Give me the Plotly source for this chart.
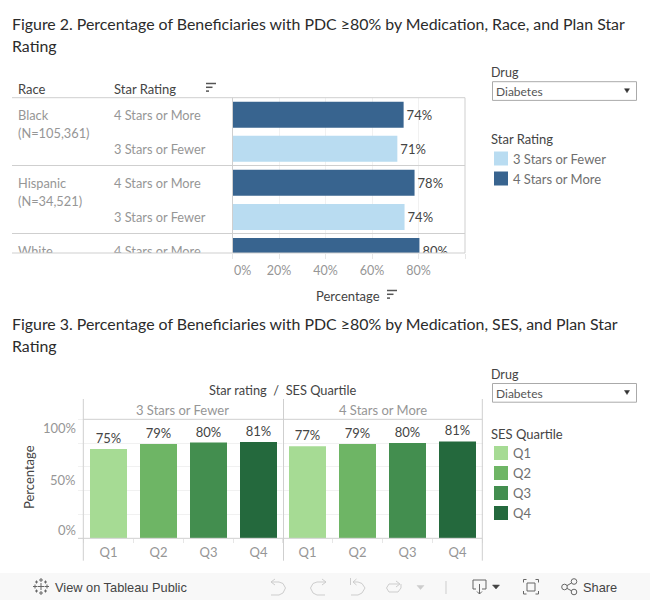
import plotly.graph_objects as go

W, H = 650, 600
FONT = "Lato"

# ---- data ----
races = ["Black", "Hispanic", "White"]
race_notes = ["(N=105,361)", "(N=34,521)"]
star_rows = ["4 Stars or More", "3 Stars or Fewer", "4 Stars or More", "3 Stars or Fewer", "4 Stars or More"]
star_names = ["3 Stars or Fewer", "4 Stars or More"]
pdc_rows = [73.6, 70.9, 78.3, 74.0, 80.4]
x_ticks_fig2 = [0, 20, 40, 60, 80, 100]
x_ticklabels_fig2 = ["", "20%", "40%", "60%", "80%", ""]

quartiles = ["Q1", "Q2", "Q3", "Q4"]
pdc_low = [75.1, 79.3, 80.4, 80.9]
pdc_high = [77.4, 79.3, 80.1, 81.4]
y_ticklabels_fig3 = ["100%", "50%", "0%"]
drug = "Diabetes"

# ---- styles ----
C_DARK = "#38648f"
C_LIGHT = "#b9dcf1"
GREENS = ["#a6db94", "#6eb565", "#438e4f", "#24693d"]
LINE = "#cfcfcf"
GRID = "#f1f1f1"
GREY = "#969696"
LEGEND_GREY = "#6f6f6f"
DARK = "#444444"
ICON_OFF = "#cdcdcd"
ICON_ON = "#666666"


def px(x):
    return x / W


def py(y):
    return 1 - y / H


def dom_x(a, b):
    return [px(a), px(b)]


def dom_y(top, bottom):
    return [py(bottom), py(top)]


fig = go.Figure()
annotations, shapes = [], []


def text(x, y, s, size=12, color=DARK, anchor="left", angle=0, family=FONT):
    annotations.append(dict(x=px(x), y=py(y), xref="paper", yref="paper", text=s, showarrow=False,
                            xanchor=anchor, yanchor="middle", textangle=angle, borderpad=0, borderwidth=0,
                            font=dict(family=family, size=size, color=color)))


def line(x0, y0, x1, y1, color=LINE, width=1):
    shapes.append(dict(type="line", xref="paper", yref="paper", x0=px(x0), y0=py(y0), x1=px(x1), y1=py(y1),
                       line=dict(color=color, width=width), layer="above"))


def rect(x0, y0, x1, y1, fill=None, color=None, width=1, layer="above"):
    shapes.append(dict(type="rect", xref="paper", yref="paper", x0=px(x0), y0=py(y0), x1=px(x1), y1=py(y1),
                       fillcolor=fill or "rgba(0,0,0,0)",
                       line=dict(color=color or "rgba(0,0,0,0)", width=width if color else 0), layer=layer))


def path(points, color="#888888", width=1, fill=None, close=False):
    d = "M " + " L ".join(f"{px(a):.5f},{py(b):.5f}" for a, b in points) + (" Z" if close else "")
    shapes.append(dict(type="path", xref="paper", yref="paper", path=d,
                       line=dict(color=color, width=width), fillcolor=fill or "rgba(0,0,0,0)", layer="above"))


def circle(cx, cy, r, color):
    shapes.append(dict(type="circle", xref="paper", yref="paper", x0=px(cx - r), x1=px(cx + r),
                       y0=py(cy - r), y1=py(cy + r), line=dict(color=color, width=1), layer="above"))


def sort_icon(x, y):
    for i, w in enumerate([10, 6.5, 3]):
        line(x, y + i * 3.8, x + w, y + i * 3.8, color="#555555", width=1.5)


# ---- Figure 2: bars ----
row_ids = list(range(len(pdc_rows)))
for name, color in zip(star_names, [C_LIGHT, C_DARK]):
    idx = [i for i in row_ids if star_rows[i] == name]
    vals = [pdc_rows[i] for i in idx]
    fig.add_trace(go.Bar(x=vals, y=idx, name=name, orientation="h", width=26 / 34,
                         marker=dict(color=color, line=dict(width=0)),
                         text=[f"{v:.0f}%" for v in vals], textposition="outside", cliponaxis=True,
                         textfont=dict(family=FONT, size=13, color=DARK), xaxis="x", yaxis="y", showlegend=False))

# row labels are clipped by the scrolling pane, so they live on an overlay axis
fig.add_trace(go.Scatter(x=[102] * len(row_ids), y=row_ids, mode="text", text=star_rows, textposition="middle right",
                         textfont=dict(family=FONT, size=12.8, color=GREY), xaxis="x4", yaxis="y4", showlegend=False,
                         hoverinfo="skip"))
race_x, race_y, race_t = [], [], []
for i, r in enumerate(races):
    race_x.append(6)
    race_y.append(i * 2)
    race_t.append(r)
    if i < len(race_notes):
        race_x.append(6)
        race_y.append(i * 2 + 0.52)
        race_t.append(race_notes[i])
fig.add_trace(go.Scatter(x=race_x, y=race_y, mode="text", text=race_t, textposition="middle right",
                         textfont=dict(family=FONT, size=12.8, color=GREY), xaxis="x4", yaxis="y4", showlegend=False,
                         hoverinfo="skip"))

# ---- Figure 3: bars ----
for vals, xa, ya in [(pdc_low, "x2", "y2"), (pdc_high, "x3", "y3")]:
    fig.add_trace(go.Bar(x=quartiles, y=vals, width=0.74, marker=dict(color=GREENS, line=dict(width=0)),
                         text=[f"{v:.0f}%" for v in vals], textposition="outside", cliponaxis=False,
                         textfont=dict(family=FONT, size=13, color=DARK), xaxis=xa, yaxis=ya, showlegend=False))

fig2_top, fig2_bottom = 97.7, 253
fig3_top, fig3_base = 419.3, 538.3
common_none = dict(showline=False, zeroline=False, showticklabels=False, ticks="")

fig.update_layout(
    width=W, height=H, autosize=False, margin=dict(l=0, r=0, t=0, b=0), paper_bgcolor="white", plot_bgcolor="white",
    barmode="overlay", font=dict(family=FONT),
    xaxis=dict(domain=dom_x(232.5, 465), range=[0, 100], tickvals=x_ticks_fig2, ticktext=x_ticklabels_fig2, tickmode="array",
               showgrid=True, gridcolor=GRID, zeroline=False, showline=False, ticks="outside", ticklen=5, tickcolor="#e6e6e6",
               tickfont=dict(family=FONT, size=12.5, color=GREY), ticklabelstandoff=1, anchor="y", fixedrange=True),
    yaxis=dict(domain=dom_y(fig2_top, fig2_bottom), range=[4.06, -0.5], showgrid=False, anchor="x", fixedrange=True, **common_none),
    yaxis4=dict(domain=dom_y(fig2_top, fig2_bottom), range=[4.0, -0.56], showgrid=False, anchor="x4", fixedrange=True, **common_none),
    xaxis4=dict(domain=dom_x(12, 232), range=[0, 220], showgrid=False, anchor="y4", fixedrange=True, **common_none),
    xaxis2=dict(domain=dom_x(83.5, 283.5), range=[-0.5, 3.5], type="category", categoryorder="array", categoryarray=quartiles,
                tickson="boundaries", ticks="outside", ticklen=4, tickcolor="#e6e6e6", showgrid=False, zeroline=False,
                showline=False, tickfont=dict(family=FONT, size=13, color=GREY), ticklabelstandoff=5, anchor="y2", fixedrange=True),
    xaxis3=dict(domain=dom_x(282.5, 482.5), range=[-0.5, 3.5], type="category", categoryorder="array", categoryarray=quartiles,
                tickson="boundaries", ticks="outside", ticklen=4, tickcolor="#e6e6e6", showgrid=False, zeroline=False,
                showline=False, tickfont=dict(family=FONT, size=13, color=GREY), ticklabelstandoff=5, anchor="y3", fixedrange=True),
    yaxis2=dict(domain=dom_y(fig3_top, fig3_base), range=[0, 100], tickvals=[0, 20, 40, 60, 80, 100], showticklabels=False,
                showgrid=True, gridcolor=GRID, zeroline=False, showline=False, ticks="outside", ticklen=5, tickcolor=GRID,
                anchor="x2", fixedrange=True),
    yaxis3=dict(domain=dom_y(fig3_top, fig3_base), range=[0, 100], tickvals=[0, 20, 40, 60, 80, 100], showticklabels=False,
                showgrid=True, gridcolor=GRID, zeroline=False, showline=False, ticks="", anchor="x3", fixedrange=True),
)

# ---- titles ----
TITLE_C = "#2b2b2b"
TITLE_S = 15.9
text(12, 23.5, "Figure 2. Percentage of Beneficiaries with PDC ≥80% by Medication, Race, and Plan Star", TITLE_S, TITLE_C)
text(12, 45.5, "Rating", TITLE_S, TITLE_C)
text(12, 323.5, "Figure 3. Percentage of Beneficiaries with PDC ≥80% by Medication, SES, and Plan Star", TITLE_S, TITLE_C)
text(12, 345.5, "Rating", TITLE_S, TITLE_C)

# ---- Figure 2 furniture ----
text(18, 89, "Race", 13, DARK)
text(114, 89, "Star Rating", 13, DARK)
sort_icon(206, 83.5)
for y in [97.7, 165.5, 233.5, 253]:
    line(12, y, 465, y)
line(232.5, 97.7, 232.5, 253)
line(465, 97.7, 465, 253)
text(242.5, 270, "0%", 12.5, GREY, "center")
text(316, 296, "Percentage", 13, DARK)
sort_icon(387, 290.5)

# ---- Figure 3 furniture ----
text(282, 390, "Star rating  /  SES Quartile", 12.8, DARK, "center")
line(83.3, 419.3, 482.3, 419.3)
line(78, fig3_base, 482.3, fig3_base)
for x in [83.3, 283.5, 482.3]:
    line(x, 399, x, 560.7)
text(183, 410, star_names[0], 13, GREY, "center")
text(382.5, 410, star_names[1], 13, GREY, "center")
for y, s in zip([428.5, 480, 530], y_ticklabels_fig3):
    text(76, y, s, 13, GREY, "right")
text(29, 477, "Percentage", 13, DARK, "center", angle=-90)


# ---- filters and legends ----
def dropdown(label_y, top):
    text(491, label_y, "Drug", 12.5, DARK)
    rect(492.5, top, 636.5, top + 18.7, color="#aaaaaa")
    text(496, top + 9.5, drug, 12, "#555555")
    path([(624.5, top + 7), (629.5, top + 7), (627, top + 11)], color="#333333", width=0.5, fill="#333333", close=True)


dropdown(72, 81.7)
text(491, 139, "Star Rating", 13, DARK)
for y, name, col in zip([151.5, 171.5], star_names, [C_LIGHT, C_DARK]):
    rect(494, y, 508, y + 14, fill=col)
    text(513, y + 7, name, 13, LEGEND_GREY)

dropdown(374, 383.5)
text(491, 434, "SES Quartile", 13, DARK)
for y, name, col in zip([446, 466, 486, 506], quartiles, GREENS):
    rect(494, y, 508, y + 14, fill=col)
    text(513, y + 7, name, 13, LEGEND_GREY)

# ---- toolbar ----
rect(0, 573, 650, 600, fill="#f8f8f8", layer="below")
text(55, 587, "View on Tableau Public", 12.8, "#444444", family="Liberation Sans")
text(582.5, 587, "Share", 12.8, "#444444", family="Liberation Sans")

# Tableau logo
for cx, cy, r in [(41, 586.5, 3.5), (41, 580, 2), (41, 593, 2), (35, 586.5, 2), (47, 586.5, 2),
                  (36.5, 582, 1.5), (45.5, 582, 1.5), (36.5, 591, 1.5), (45.5, 591, 1.5)]:
    line(cx - r, cy, cx + r, cy, color=ICON_ON, width=1)
    line(cx, cy - r, cx, cy + r, color=ICON_ON, width=1)

# undo
path([(271, 582), (279, 582), (283, 583.5), (285.5, 588), (283, 593), (279, 595), (271, 595)], ICON_OFF)
path([(275, 579), (271, 582), (275, 585)], ICON_OFF)
# redo
path([(326, 582), (317, 582), (313, 583.5), (310.5, 588), (313, 593), (317, 595), (325, 595)], ICON_OFF)
path([(322, 579), (326, 582), (322, 585)], ICON_OFF)
# revert
line(350.5, 578, 350.5, 585, ICON_OFF)
path([(353, 582), (358, 582), (362, 583.5), (365, 588), (362, 593), (358, 595), (351, 595)], ICON_OFF)
path([(356.5, 579), (353, 582), (356.5, 585)], ICON_OFF)
# refresh
path([(399, 584), (389, 584), (386.5, 588), (389, 592), (398, 592), (401, 588), (401, 584)], ICON_OFF)
path([(396, 581), (400, 584), (396, 587)], ICON_OFF)
path([(417, 585.5), (424, 585.5), (420.5, 589.5)], ICON_OFF, 0.5, ICON_OFF, True)
line(446, 581, 446, 594, ICON_OFF)
# download
path([(476, 589), (473, 589), (473, 580), (486, 580), (486, 589), (482, 589)], ICON_ON)
line(479.5, 584, 479.5, 594, ICON_ON)
path([(477, 591.5), (479.5, 594), (482, 591.5)], ICON_ON)
path([(492.5, 585), (499.5, 585), (496, 589)], "#444444", 0.5, "#444444", True)
# full screen
rect(527, 583, 535, 591, color=ICON_ON)
for x, dx in [(523.5, 1), (538.5, -1)]:
    path([(x + dx * 3, 579.5), (x, 579.5), (x, 582.5)], ICON_ON)
    path([(x + dx * 3, 594), (x, 594), (x, 591)], ICON_ON)
# share
circle(564.5, 587, 2.8, ICON_ON)
circle(574, 581.5, 2.8, ICON_ON)
circle(574, 592, 2.8, ICON_ON)
line(567, 585.6, 571.5, 583, ICON_ON)
line(567, 588.4, 571.5, 590.8, ICON_ON)

fig.update_layout(annotations=annotations, shapes=shapes)
fig.write_html("out.html", config={"displayModeBar": False},
               post_script="document.body.style.margin='0';document.body.style.overflow='hidden';")
